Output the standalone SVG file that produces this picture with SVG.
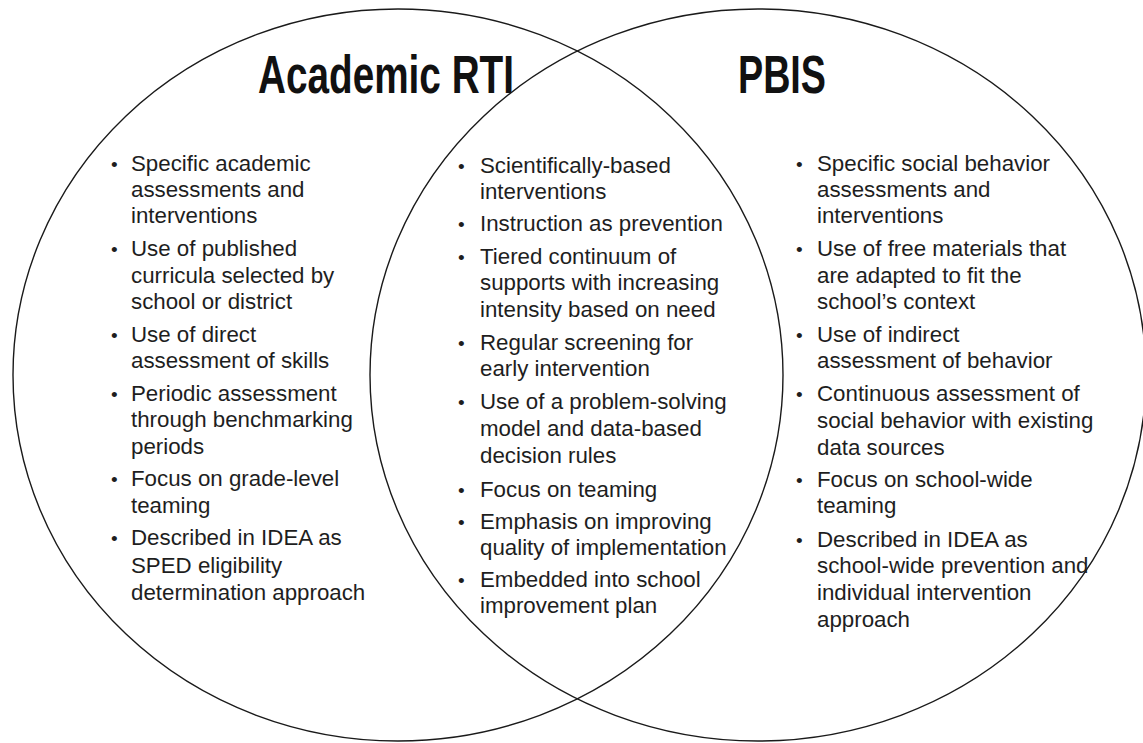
<svg xmlns="http://www.w3.org/2000/svg" width="1143" height="743" viewBox="0 0 1143 743">
<style>
.ring{fill:none;stroke:#1a1a1a;stroke-width:1.4}
.title{font-family:"Liberation Sans Narrow","Liberation Sans",Arial,sans-serif;font-weight:bold;font-size:54px;fill:#111}
.body{font-family:"Liberation Sans",Arial,sans-serif;font-size:22.3px;fill:#1e1e1e}
.bul{font-family:"Liberation Sans",Arial,sans-serif;font-size:19px;fill:#1e1e1e}
</style>
<rect width="1143" height="743" fill="#fff"/>
<g id="academic-rti">
<ellipse class="ring" cx="398" cy="375" rx="385" ry="366"/>
<text class="title" x="258" y="93" textLength="256" lengthAdjust="spacingAndGlyphs">Academic RTI</text>
<g class="bul">
<text x="111" y="170.7">•</text>
<text x="111" y="256">•</text>
<text x="111" y="341.7">•</text>
<text x="111" y="400.7">•</text>
<text x="111" y="486">•</text>
<text x="111" y="545">•</text>
</g>
<g class="body">
<text x="131" y="170.7">Specific academic</text>
<text x="131" y="196.7">assessments and</text>
<text x="131" y="222.7">interventions</text>
<text x="131" y="256">Use of published</text>
<text x="131" y="282.5">curricula selected by</text>
<text x="131" y="309">school or district</text>
<text x="131" y="341.7">Use of direct</text>
<text x="131" y="368">assessment of skills</text>
<text x="131" y="400.7">Periodic assessment</text>
<text x="131" y="427">through benchmarking</text>
<text x="131" y="454">periods</text>
<text x="131" y="486">Focus on grade-level</text>
<text x="131" y="512.5">teaming</text>
<text x="131" y="545">Described in IDEA as</text>
<text x="131" y="572.5">SPED eligibility</text>
<text x="131" y="599.5">determination approach</text>
</g>
</g>
<g id="shared">
<g class="bul">
<text x="458" y="172.7">•</text>
<text x="458" y="231">•</text>
<text x="458" y="263.5">•</text>
<text x="458" y="349.5">•</text>
<text x="458" y="408.5">•</text>
<text x="458" y="496.5">•</text>
<text x="458" y="528.5">•</text>
<text x="458" y="586.5">•</text>
</g>
<g class="body">
<text x="480" y="172.7">Scientifically-based</text>
<text x="480" y="198.5">interventions</text>
<text x="480" y="231">Instruction as prevention</text>
<text x="480" y="263.5">Tiered continuum of</text>
<text x="480" y="290">supports with increasing</text>
<text x="480" y="316.5">intensity based on need</text>
<text x="480" y="349.5">Regular screening for</text>
<text x="480" y="376">early intervention</text>
<text x="480" y="408.5">Use of a problem-solving</text>
<text x="480" y="435.5">model and data-based</text>
<text x="480" y="462.5">decision rules</text>
<text x="480" y="496.5">Focus on teaming</text>
<text x="480" y="528.5">Emphasis on improving</text>
<text x="480" y="555">quality of implementation</text>
<text x="480" y="586.5">Embedded into school</text>
<text x="480" y="613">improvement plan</text>
</g>
</g>
<g id="pbis">
<ellipse class="ring" cx="758" cy="375" rx="388" ry="366"/>
<text class="title" x="738" y="93" textLength="88" lengthAdjust="spacingAndGlyphs">PBIS</text>
<g class="bul">
<text x="796" y="170.7">•</text>
<text x="796" y="256">•</text>
<text x="796" y="341.7">•</text>
<text x="796" y="400.7">•</text>
<text x="796" y="486.5">•</text>
<text x="796" y="546.5">•</text>
</g>
<g class="body">
<text x="817" y="170.7">Specific social behavior</text>
<text x="817" y="196.7">assessments and</text>
<text x="817" y="222.7">interventions</text>
<text x="817" y="256">Use of free materials that</text>
<text x="817" y="282.5">are adapted to fit the</text>
<text x="817" y="309">school’s context</text>
<text x="817" y="341.7">Use of indirect</text>
<text x="817" y="368">assessment of behavior</text>
<text x="817" y="400.7">Continuous assessment of</text>
<text x="817" y="427.5">social behavior with existing</text>
<text x="817" y="454.5">data sources</text>
<text x="817" y="486.5">Focus on school-wide</text>
<text x="817" y="513">teaming</text>
<text x="817" y="546.5">Described in IDEA as</text>
<text x="817" y="573">school-wide prevention and</text>
<text x="817" y="600">individual intervention</text>
<text x="817" y="626.5">approach</text>
</g>
</g>
</svg>
